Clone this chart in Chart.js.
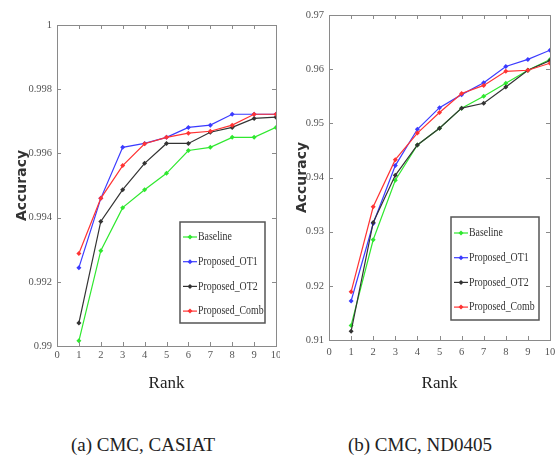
<!DOCTYPE html>
<html>
<head>
<meta charset="utf-8">
<script src="https://cdn.jsdelivr.net/npm/chart.js@4.4.1/dist/chart.umd.min.js"></script>
<style>
  body { margin: 0; background: #fff; width: 558px; height: 464px; position: relative; overflow: hidden; }
  .wrap { position: absolute; top: 0; }
  .cap { position: absolute; top: 434px; font-family: "Liberation Serif", serif; font-size: 19px; color: #222; white-space: nowrap; transform: translateX(-50%); }
</style>
</head>
<body>
<div class="wrap" style="left:0px"><canvas id="chartA" width="280" height="400"></canvas></div>
<div class="wrap" style="left:279px"><canvas id="chartB" width="279" height="400"></canvas></div>
<div class="cap" style="left:143px">(a) CMC, CASIAT</div>
<div class="cap" style="left:420px">(b) CMC, ND0405</div>
<script>
// Rank axis
const ranks = [1, 2, 3, 4, 5, 6, 7, 8, 9, 10];
const seriesNames = ['Baseline', 'Proposed_OT1', 'Proposed_OT2', 'Proposed_Comb'];
const seriesColors = ['#2fe82f', '#3b3bff', '#333333', '#ff3333'];

// (a) CASIAT values
const casBaseline = [0.99016, 0.99297, 0.99431, 0.99487, 0.99538, 0.99609, 0.99619, 0.9965, 0.9965, 0.99681];
const casOT1 = [0.99244, 0.9946, 0.99619, 0.99631, 0.9965, 0.99681, 0.99688, 0.99722, 0.99722, 0.99722];
const casOT2 = [0.99072, 0.99388, 0.99487, 0.99569, 0.99631, 0.99631, 0.99666, 0.99681, 0.99709, 0.99713];
const casComb = [0.99288, 0.9946, 0.99562, 0.9963, 0.9965, 0.99663, 0.99669, 0.99688, 0.99722, 0.99722];

// (b) ND0405 values
const ndBaseline = [0.9127, 0.9285, 0.9395, 0.946, 0.9491, 0.9528, 0.955, 0.9574, 0.9598, 0.9618];
const ndOT1 = [0.9172, 0.9315, 0.9422, 0.9489, 0.9529, 0.9553, 0.9575, 0.9605, 0.9618, 0.9635];
const ndOT2 = [0.9116, 0.9317, 0.9404, 0.946, 0.9491, 0.9528, 0.9537, 0.9567, 0.9598, 0.9616];
const ndComb = [0.9189, 0.9346, 0.9433, 0.9482, 0.952, 0.9555, 0.957, 0.9596, 0.9598, 0.9611];

// tick labels
const xTickLabels = ['0', '1', '2', '3', '4', '5', '6', '7', '8', '9', '10'];
const casYTickLabels = ['0.99', '0.992', '0.994', '0.996', '0.998', '1'];
const ndYTickLabels = ['0.91', '0.92', '0.93', '0.94', '0.95', '0.96', '0.97'];

// matlab style box, inward ticks and legend inside the plot
const matlabBox = {
    id: 'matlabBox',
    afterDatasetsDraw(chart, args, opts) {
        const { ctx, chartArea: a, scales: { x, y } } = chart;
        ctx.save();
        ctx.strokeStyle = '#8a8a8a';
        ctx.lineWidth = 1;
        ctx.strokeRect(Math.round(a.left) + 0.5, Math.round(a.top) + 0.5, Math.round(a.width), Math.round(a.height));
        ctx.beginPath();
        x.ticks.forEach(t => {
            const px = Math.round(x.getPixelForValue(t.value)) + 0.5;
            ctx.moveTo(px, a.bottom); ctx.lineTo(px, a.bottom - 4);
            ctx.moveTo(px, a.top); ctx.lineTo(px, a.top + 4);
        });
        y.ticks.forEach(t => {
            const py = Math.round(y.getPixelForValue(t.value)) + 0.5;
            ctx.moveTo(a.left, py); ctx.lineTo(a.left + 4, py);
            ctx.moveTo(a.right, py); ctx.lineTo(a.right - 4, py);
        });
        ctx.stroke();

        // legend
        const lx = a.left + opts.dx, ly = a.top + opts.dy;
        ctx.fillStyle = '#fff';
        ctx.fillRect(lx, ly, opts.w, opts.h);
        ctx.strokeStyle = '#555';
        ctx.lineWidth = 1.5;
        ctx.strokeRect(lx, ly, opts.w, opts.h);
        ctx.font = '12px "Liberation Serif"';
        ctx.textBaseline = 'middle';
        chart.data.datasets.forEach((ds, i) => {
            const ry = ly + opts.first + i * opts.gap;
            ctx.strokeStyle = ds.borderColor;
            ctx.lineWidth = 1.2;
            ctx.beginPath();
            ctx.moveTo(lx + 3, ry); ctx.lineTo(lx + 17, ry);
            ctx.stroke();
            ctx.fillStyle = ds.borderColor;
            ctx.beginPath();
            ctx.moveTo(lx + 10, ry - 2.5); ctx.lineTo(lx + 12.5, ry);
            ctx.lineTo(lx + 10, ry + 2.5); ctx.lineTo(lx + 7.5, ry);
            ctx.fill();
            ctx.save();
            ctx.translate(lx + 18, ry);
            ctx.scale(0.82, 1);
            ctx.fillStyle = '#333';
            ctx.fillText(ds.label, 0, 0);
            ctx.restore();
        });
        ctx.restore();
    }
};

function makeChart(id, values, yMin, yMax, yStep, yLabels, box) {
    const ctx = document.getElementById(id);
    const order = [3, 2, 1, 0];
    return new Chart(ctx, {
        type: 'line',
        data: {
            datasets: values.map((vals, i) => ({
                label: seriesNames[i],
                data: vals.map((v, j) => ({ x: ranks[j], y: v })),
                borderColor: seriesColors[i],
                backgroundColor: seriesColors[i],
                borderWidth: 1.2,
                pointStyle: 'rectRot',
                pointRadius: 2.5,
                pointBorderWidth: 0,
                order: order[i],
                tension: 0
            }))
        },
        options: {
            responsive: false,
            animation: false,
            events: [],
            layout: { padding: { top: box.top, right: box.right, left: 0, bottom: 0 } },
            plugins: {
                legend: { display: false },
                tooltip: { enabled: false },
                matlabBox: box.legend
            },
            scales: {
                x: {
                    type: 'linear', min: 0, max: 10,
                    grid: { display: false, drawTicks: false },
                    border: { display: false },
                    ticks: {
                        stepSize: 1, padding: box.xPad, color: '#555',
                        font: { family: 'Liberation Serif', size: 10.5 },
                        callback: (v, i) => xTickLabels[i]
                    },
                    title: {
                        display: true, text: 'Rank', color: '#222',
                        font: { family: 'Liberation Serif', size: 17 },
                        padding: { top: 0, bottom: 6 }
                    },
                    afterFit: s => { s.height = box.xHeight; s.paddingLeft = 0; s.paddingRight = 0; }
                },
                y: {
                    min: yMin, max: yMax,
                    grid: { display: false, drawTicks: false },
                    border: { display: false },
                    ticks: {
                        stepSize: yStep, padding: box.yPad, color: '#555',
                        font: { family: 'Liberation Serif', size: 10.5 },
                        callback: (v, i) => yLabels[i]
                    },
                    title: {
                        display: true, text: 'Accuracy', color: '#333',
                        font: { family: 'DejaVu Sans', size: 14, weight: 'bold' },
                        padding: { top: box.titlePad, bottom: 0 }
                    },
                    afterFit: s => { s.width = box.yWidth; s.paddingTop = 0; s.paddingBottom = 0; }
                }
            }
        },
        plugins: [matlabBox]
    });
}

makeChart('chartA', [casBaseline, casOT1, casOT2, casComb], 0.99, 1, 0.002, casYTickLabels, {
    top: 25, right: 4, xHeight: 54, yWidth: 57, xPad: 3, yPad: 5, titlePad: 14,
    legend: { dx: 123, dy: 197, w: 85, h: 101, first: 15, gap: 24.7 }
});
makeChart('chartB', [ndBaseline, ndOT1, ndOT2, ndComb], 0.91, 0.97, 0.01, ndYTickLabels, {
    top: 15, right: 8, xHeight: 60, yWidth: 50, xPad: 6, yPad: 5, titlePad: 15,
    legend: { dx: 122, dy: 202, w: 88, h: 103, first: 16, gap: 24.7 }
});
</script>
</body>
</html>
